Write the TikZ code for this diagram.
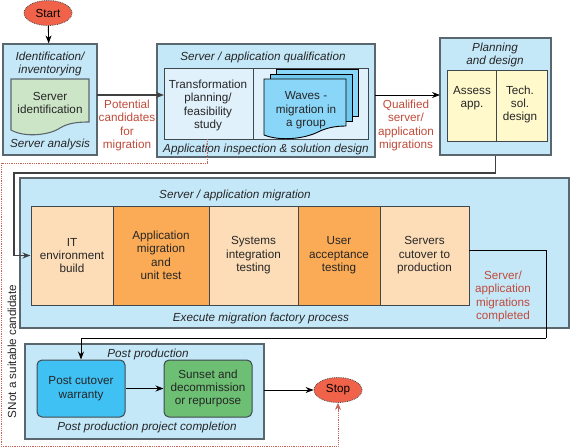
\documentclass[tikz,border=0pt]{standalone}
\usepackage{fontspec}
\setmainfont{Liberation Sans}
\usetikzlibrary{arrows.meta,shapes.geometric}
\definecolor{panelblue}{HTML}{C5E8F9}
\definecolor{rimgrey}{HTML}{5B676E}
\definecolor{docgreen}{HTML}{CDE5C7}
\definecolor{paleblue}{HTML}{E0F1FC}
\definecolor{paleyellow}{HTML}{FFF9CC}
\definecolor{peach}{HTML}{FDDDB8}
\definecolor{orange}{HTML}{FBAB55}
\definecolor{warrantyblue}{HTML}{3FC1F3}
\definecolor{sunsetgreen}{HTML}{6CBF73}
\definecolor{stopred}{HTML}{F0634A}
\definecolor{notered}{HTML}{BF4A3A}
\definecolor{wavefront}{HTML}{8AD6F8}
\definecolor{waveback}{HTML}{70C8EE}
\tikzset{
  boxtxt/.style={font=\fontsize{11.7}{13.4}\selectfont, align=center, inner sep=0pt, text=black!85},
  txt/.style={boxtxt, yshift=-1.5pt},
  title/.style={txt, font=\fontsize{11.7}{13.4}\selectfont\itshape},
  note/.style={txt, text=notered},
  panel/.style={draw=rimgrey, line width=1.2pt, fill=panelblue, inner sep=0pt},
  cell/.style={draw=rimgrey!70!black, line width=1pt, inner sep=0pt},
  stage/.style={cell, boxtxt, minimum height=99pt},
  oval/.style={ellipse, draw=black!70, densely dotted, line width=.8pt, fill=stopred, minimum width=48pt, minimum height=25pt, inner sep=0pt, font=\fontsize{11.7}{13.4}\selectfont},
  flow/.style={line width=.9pt, -{Stealth[length=8pt,width=6pt]}},
  greyflow/.style={flow, draw=black!75, line width=1.3pt},
  reject/.style={draw=notered!85, densely dotted, line width=.8pt}
}
\begin{document}
\begin{tikzpicture}[x=1pt,y=-1pt]
  \useasboundingbox (0,0) rectangle (570,447);
  \node[oval] (start) at (48,13) {Start};

  % identification
  \node[panel, minimum width=94pt, minimum height=111pt] (ident) at (50,99.5) {};
  \node[title] (identtop) at (50,62.5) {Identification/\\inventorying};
  \draw[draw=rimgrey, line width=1.1pt, fill=docgreen] (11,79) -- (89,79) -- (89,122)
    .. controls (78,122) and (68,123) .. (60,128) .. controls (50,135) and (25,138) .. (11,130) -- cycle;
  \node[txt] (servid) at (50,101.5) {Server\\identification};
  \node[title] (identlow) at (50,143) {Server analysis};

  % qualification
  \node[panel, minimum width=218pt, minimum height=113pt] (qual) at (266,100.5) {};
  \node[title] (qualtop) at (263,56) {Server / application qualification};
  \node[cell, fill=paleblue, minimum width=89pt, minimum height=71pt] (transform) at (208.5,103.5) {};
  \node[cell, fill=paleblue, minimum width=115pt, minimum height=71pt] (wavecell) at (310.5,103.5) {};
  \draw[fill=wavefront, line width=.9pt] (276,69) rectangle (358,116);
  \draw[fill=waveback, line width=.9pt] (270,74) rectangle (352,121);
  \draw[fill=wavefront, line width=.9pt] (264,79) -- (346,79) -- (346,126)
    .. controls (335,126) and (326,128) .. (318,132) .. controls (306,138) and (282,142) .. (264,135) -- cycle;
  \node[txt] (transformtxt) at (208,104) {Transformation\\planning/\\feasibility\\study};
  \node[txt] (wavetxt) at (306,109) {Waves -\\migration in\\a group};
  \node[title] (quallow) at (266,148) {Application inspection \& solution design};

  % planning
  \node[panel, minimum width=111pt, minimum height=117pt] (plan) at (495.5,96.5) {};
  \node[title] (plantop) at (495,53.5) {Planning\\and design};
  \node[cell, fill=paleyellow, minimum width=49pt, minimum height=71pt] (assess) at (471.5,105.5) {};
  \node[cell, fill=paleyellow, minimum width=51pt, minimum height=71pt] (tech) at (521.5,105.5) {};
  \node[txt] (assesstxt) at (472,96.5) {Assess\\app.};
  \node[txt] (techtxt) at (520,103) {Tech.\\sol.\\design};

  % migration factory
  \node[panel, minimum width=549pt, minimum height=150pt] (factory) at (294.5,253) {};
  \node[title] (factorytop) at (235,194) {Server / application migration};
  \foreach \name/\x/\w/\col/\lines in {
      itbuild/72/82/peach/{IT\\environment\\build},
      appmig/161/96/orange/{Application\\migration\\and\\unit test},
      sysint/253.5/89/peach/{Systems\\integration\\testing},
      useracc/339/82/orange/{User\\acceptance\\testing},
      cutover/424.5/89/peach/{Servers\\cutover to\\production}} {
    \node[stage, fill=\col, minimum width=\w pt] (\name) at (\x,255.5) {\lines};
  }
  \node[title] (factorylow) at (261,317) {Execute migration factory process};

  % post production
  \node[panel, minimum width=239pt, minimum height=95pt] (post) at (144.5,391.5) {};
  \node[title] (posttop) at (148,353) {Post production};
  \node[stage, fill=warrantyblue, rounded corners=5pt, minimum width=88pt, minimum height=57pt] (warranty) at (81,388.5) {Post cutover\\warranty};
  \node[stage, fill=sunsetgreen, rounded corners=5pt, minimum width=88pt, minimum height=57pt] (sunset) at (208,388.5) {Sunset and\\decommission\\or repurpose};
  \node[title] (postlow) at (147,426) {Post production project completion};
  \node[oval] (stop) at (338,390) {Stop};

  % connectors
  \coordinate (identout) at (97,95);
  \coordinate (transformin) at (164,95);
  \coordinate (qualout) at (375,95);
  \coordinate (planin) at (440,95);
  \coordinate (railtop) at (14,173);
  \coordinate (cutoverout) at (469,250);
  \coordinate (railright) at (546,338);
  \coordinate (postout) at (264,390);
  \coordinate (rejectfrom) at (207,139);
  \coordinate (rejecttop) at (1,163);
  \coordinate (rejectlow) at (1,446);
  \coordinate (rejectup) at (338,411);

  \draw[flow] (start) -- (ident);
  \draw[greyflow] (identout) -- (transformin);
  \draw[flow] (qualout) -- (planin);
  \draw[greyflow] (plan.south) |- (railtop) |- (itbuild.west);
  \draw[line width=.9pt] (cutoverout) -| (railright);
  \draw[flow] (railright) -| (warranty.north);
  \draw[flow] (warranty) -- (sunset);
  \draw[flow] (postout) -- (stop);
  \draw[reject] (rejectfrom) |- (rejecttop) -- (rejectlow) -| (rejectup);
  \draw[reject, solid, -{Stealth[length=7pt,width=6pt]}] (rejectup) -- (stop.south);

  % labels on the connectors
  \node[note] (potential) at (127,124) {Potential\\candidates\\for\\migration};
  \node[note] (qualified) at (406,124) {Qualified\\server/\\application\\migrations};
  \node[note] (completed) at (503,295) {Server/\\application\\migrations\\completed};
  \node[txt, rotate=90] (notsuit) at (12,350) {SNot a suitable candidate};
\end{tikzpicture}
\end{document}
